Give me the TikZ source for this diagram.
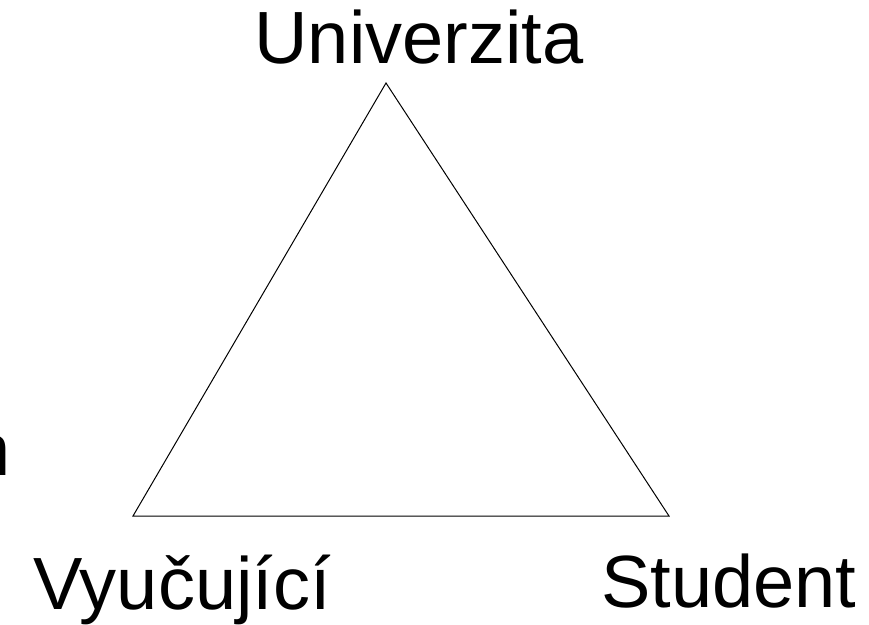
\documentclass[tikz,border=0pt]{standalone}
\usepackage{fontspec}
\setmainfont{Liberation Sans}
\begin{document}
\begin{tikzpicture}[x=1pt,y=-1pt,
  lbl/.style={inner sep=0pt,outer sep=0pt,font=\fontsize{74}{88}\selectfont,anchor=base},
  edge/.style={draw=black,line width=1pt,line join=miter}]
\useasboundingbox (0,0) rectangle (869,624);
\coordinate (u) at (386,83);
\coordinate (v) at (133,516);
\coordinate (s) at (669,516);
\draw[edge] (u) -- (v) -- (s) -- cycle;
\node[lbl] (tu) at (419,63) {Univerzita};
\node[lbl] (tv) at (182,609) {Vyučující};
\node[lbl] (ts) at (729,607) {Student};
\node[lbl,anchor=base west] (tn) at (-30,475) {n};
\end{tikzpicture}
\end{document}
